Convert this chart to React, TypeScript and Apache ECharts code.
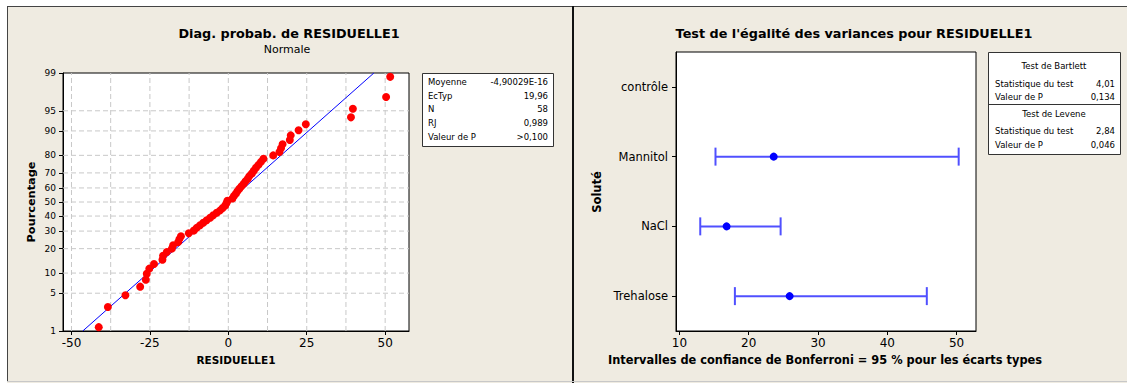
import React, { useEffect, useRef } from "react";
import * as echarts from "echarts";

// ---------- data ----------
const residuals = [
  -41.3, -38.4, -32.8, -28.1, -26.3, -26.0, -25.2, -23.7, -21.0, -20.8,
  -19.6, -18.0, -17.6, -16.0, -15.6, -15.1, -12.6, -11.0, -10.1, -9.0,
  -8.0, -6.9, -5.8, -4.8, -3.7, -2.6, -1.8, -1.0, -0.6, -0.3,
  1.3, 1.8, 2.4, 2.9, 3.5, 4.2, 4.9, 5.5, 6.2, 6.7,
  7.5, 8.1, 8.8, 9.6, 10.4, 11.2, 14.3, 16.3, 16.8, 17.3,
  19.6, 19.9, 22.4, 24.7, 39.1, 39.7, 50.3, 51.6,
];
const percents = [
  1.2, 2.91, 4.62, 6.34, 8.05, 9.76, 11.47, 13.18, 14.9, 16.61,
  18.32, 20.03, 21.75, 23.46, 25.17, 26.88, 28.6, 30.31, 32.02, 33.73,
  35.45, 37.16, 38.87, 40.58, 42.29, 44.01, 45.72, 47.43, 49.14, 50.86,
  52.57, 54.28, 55.99, 57.71, 59.42, 61.13, 62.84, 64.55, 66.27, 67.98,
  69.69, 71.4, 73.12, 74.83, 76.54, 78.25, 79.97, 81.68, 83.39, 85.1,
  86.82, 88.53, 90.24, 91.95, 93.66, 95.38, 97.09, 98.8,
];
const fitLineX = [-46.4, 46.4];
const fitLineP = [1, 99];
const yTickPercents = [1, 5, 10, 20, 30, 40, 50, 60, 70, 80, 90, 95, 99];
const xTicksLeft = [-50, -25, 0, 25, 50];
const xGridLeft = [-50, -37.5, -25, -12.5, 0, 12.5, 25, 37.5, 50];
const xMinLeft = -52.7;
const xMaxLeft = 57.6;

const statLabels = ["Moyenne", "EcTyp", "N", "RJ", "Valeur de P"];
const statValues = ["-4,90029E-16", "19,96", "58", "0,989", ">0,100"];

const solutes = ["contrôle", "Mannitol", "NaCl", "Trehalose"];
const sigmaLow = [null, 15.2, 13.0, 18.0];
const sigmaEst = [null, 23.6, 16.8, 25.9];
const sigmaHigh = [null, 50.3, 24.6, 45.7];
const xTicksRight = [10, 20, 30, 40, 50];

const bartlett = { stat: "4,01", p: "0,134" };
const levene = { stat: "2,84", p: "0,046" };

// ---------- helpers ----------
function probit(p: number): number {
  const a = [-3.969683028665376e1, 2.209460984245205e2, -2.759285104469687e2, 1.38357751867269e2, -3.066479806614716e1, 2.506628277459239];
  const b = [-5.447609879822406e1, 1.615858368580409e2, -1.556989798598866e2, 6.680131188771972e1, -1.328068155288572e1];
  const c = [-7.784894002430293e-3, -3.223964580411365e-1, -2.400758277161838, -2.549732539343734, 4.374664141464968, 2.938163982698783];
  const d = [7.784695709041462e-3, 3.224671290700398e-1, 2.445134137142996, 3.754408661907416];
  const pl = 0.02425;
  if (p < pl) {
    const q = Math.sqrt(-2 * Math.log(p));
    return (((((c[0] * q + c[1]) * q + c[2]) * q + c[3]) * q + c[4]) * q + c[5]) / ((((d[0] * q + d[1]) * q + d[2]) * q + d[3]) * q + 1);
  }
  if (p <= 1 - pl) {
    const q = p - 0.5;
    const r = q * q;
    return ((((((a[0] * r + a[1]) * r + a[2]) * r + a[3]) * r + a[4]) * r + a[5]) * q) / (((((b[0] * r + b[1]) * r + b[2]) * r + b[3]) * r + b[4]) * r + 1);
  }
  const q = Math.sqrt(-2 * Math.log(1 - p));
  return -(((((c[0] * q + c[1]) * q + c[2]) * q + c[3]) * q + c[4]) * q + c[5]) / ((((d[0] * q + d[1]) * q + d[2]) * q + d[3]) * q + 1);
}

const FONT = "DejaVu Sans";
const BEIGE = "#efebe1";
const zTicks = yTickPercents.map((p) => probit(p / 100));

export default function App() {
  const ref = useRef<HTMLDivElement>(null);
  useEffect(() => {
    document.body.style.margin = "0";
    const chart = echarts.init(ref.current!, null, { renderer: "svg" });

    const txt = (x: number, y: number, text: string, size: number, opts: any = {}) => ({
      type: "text",
      x,
      y,
      rotation: opts.rotation || 0,
      z: 100,
      style: {
        text,
        fontFamily: FONT,
        fontSize: size,
        fontWeight: opts.bold ? "bold" : "normal",
        fill: "#000",
        align: opts.align || "center",
        verticalAlign: "middle",
      },
    });

    const graphics: any[] = [
      { type: "rect", shape: { x: 0, y: 0, width: 1127, height: 6 }, style: { fill: "#fff" }, z: 50 },
      { type: "rect", shape: { x: 0, y: 0, width: 7, height: 383 }, style: { fill: "#fff" }, z: 50 },
      { type: "line", shape: { x1: 7, y1: 6.5, x2: 1127, y2: 6.5 }, style: { stroke: "#444", lineWidth: 1 }, z: 51 },
      { type: "line", shape: { x1: 7.5, y1: 6, x2: 7.5, y2: 381 }, style: { stroke: "#444", lineWidth: 1 }, z: 51 },
      { type: "line", shape: { x1: 573, y1: 6, x2: 573, y2: 383 }, style: { stroke: "#111", lineWidth: 2 }, z: 51 },
      { type: "line", shape: { x1: 7, y1: 381.5, x2: 1127, y2: 381.5 }, style: { stroke: "#c8c8c8", lineWidth: 1 }, z: 51 },
      // titles
      txt(289, 33, "Diag. probab. de RESIDUELLE1", 12.8, { bold: true }),
      txt(287, 49.5, "Normale", 11),
      txt(854, 33, "Test de l'égalité des variances pour RESIDUELLE1", 12.8, { bold: true }),
      // axis names
      txt(236, 360, "RESIDUELLE1", 10.5, { bold: true }),
      txt(31, 202, "Pourcentage", 11.3, { bold: true, rotation: Math.PI / 2 }),
      txt(597, 192, "Soluté", 11.5, { bold: true, rotation: Math.PI / 2 }),
      txt(825, 360, "Intervalles de confiance de Bonferroni = 95 % pour les écarts types", 11.4, { bold: true }),
      // left stats box
      { type: "rect", shape: { x: 422.5, y: 73.5, width: 131, height: 73 }, style: { fill: "#fff", stroke: "#333", lineWidth: 1 }, z: 60 },
      // right stats box
      { type: "rect", shape: { x: 988.5, y: 52.5, width: 132, height: 102 }, style: { fill: "#fff", stroke: "#333", lineWidth: 1 }, z: 60 },
      { type: "line", shape: { x1: 988.5, y1: 104.5, x2: 1120.5, y2: 104.5 }, style: { stroke: "#333", lineWidth: 1 }, z: 61 },
    ];
    const BOX = 8.5;
    const rowsY = [82, 95.7, 109.3, 123, 137];
    statLabels.forEach((l, i) => {
      graphics.push(txt(428, rowsY[i], l, BOX, { align: "left" }));
      graphics.push(txt(548, rowsY[i], statValues[i], BOX, { align: "right" }));
    });
    graphics.push(txt(1054, 66, "Test de Bartlett", BOX));
    graphics.push(txt(995, 83.5, "Statistique du test", BOX, { align: "left" }));
    graphics.push(txt(1115, 83.5, bartlett.stat, BOX, { align: "right" }));
    graphics.push(txt(995, 97, "Valeur de P", BOX, { align: "left" }));
    graphics.push(txt(1115, 97, bartlett.p, BOX, { align: "right" }));
    graphics.push(txt(1054, 113.5, "Test de Levene", BOX));
    graphics.push(txt(995, 131, "Statistique du test", BOX, { align: "left" }));
    graphics.push(txt(1115, 131, levene.stat, BOX, { align: "right" }));
    graphics.push(txt(995, 145, "Valeur de P", BOX, { align: "left" }));
    graphics.push(txt(1115, 145, levene.p, BOX, { align: "right" }));

    const intervalData: any[] = [];
    const estData: any[] = [];
    solutes.forEach((_, i) => {
      if (sigmaLow[i] != null) {
        intervalData.push([i, sigmaLow[i], sigmaHigh[i]]);
        estData.push([sigmaEst[i], i]);
      }
    });

    const zMin = zTicks[0];
    const zMax = zTicks[zTicks.length - 1];
    const gridStyle = { color: "#c8c8c8", type: [5, 3], width: 1 };
    const gridSeries: any[] = [
      ...xGridLeft.map((v) => ({
        type: "line",
        xAxisIndex: 0,
        yAxisIndex: 0,
        data: [[v, zMin], [v, zMax]],
        symbol: "none",
        silent: true,
        z: 1,
        lineStyle: gridStyle,
      })),
      ...zTicks.slice(1, zTicks.length - 1).map((z) => ({
        type: "line",
        xAxisIndex: 0,
        yAxisIndex: 0,
        data: [[xMinLeft, z], [xMaxLeft, z]],
        symbol: "none",
        silent: true,
        z: 1,
        lineStyle: gridStyle,
      })),
    ];

    const axisLabelBase = { fontFamily: FONT, color: "#000" };

    chart.setOption({
      animation: false,
      backgroundColor: BEIGE,
      grid: [
        { left: 63, top: 73, width: 346, height: 258, show: true, backgroundColor: "#fff", borderColor: "#000", borderWidth: 1 },
        { left: 676, top: 52, width: 300, height: 279, show: true, backgroundColor: "#fff", borderColor: "#000", borderWidth: 1 },
      ],
      xAxis: [
        {
          type: "value",
          gridIndex: 0,
          min: xMinLeft,
          max: xMaxLeft,
          axisLine: { show: true, onZero: false, lineStyle: { color: "#000" } },
          axisTick: { show: true, customValues: xTicksLeft, length: 4, lineStyle: { color: "#000" } },
          axisLabel: { ...axisLabelBase, customValues: xTicksLeft, fontSize: 12, margin: 6 },
          splitLine: { show: false },
        },
        {
          type: "value",
          gridIndex: 1,
          min: 9.5,
          max: 52.8,
          axisLine: { show: true, onZero: false, lineStyle: { color: "#000" } },
          axisTick: { show: true, customValues: xTicksRight, length: 4, lineStyle: { color: "#000" } },
          axisLabel: { ...axisLabelBase, customValues: xTicksRight, fontSize: 12, margin: 6 },
          splitLine: { show: false },
        },
      ],
      yAxis: [
        {
          type: "value",
          gridIndex: 0,
          min: zMin,
          max: zMax,
          axisLine: { show: true, onZero: false, lineStyle: { color: "#000" } },
          axisTick: { show: true, customValues: zTicks, length: 4, lineStyle: { color: "#000" } },
          axisLabel: {
            ...axisLabelBase,
            customValues: zTicks,
            fontSize: 9,
            margin: 7,
            formatter: (v: number) => {
              const i = zTicks.findIndex((z) => Math.abs(z - v) < 1e-6);
              return i >= 0 ? String(yTickPercents[i]) : "";
            },
          },
          splitLine: { show: false },
        },
        {
          type: "category",
          gridIndex: 1,
          data: solutes,
          inverse: true,
          axisLine: { show: true, onZero: false, lineStyle: { color: "#000" } },
          axisTick: { show: true, alignWithLabel: true, length: 4, lineStyle: { color: "#000" } },
          axisLabel: { ...axisLabelBase, fontSize: 11.5, margin: 8 },
          splitLine: { show: false },
        },
      ],
      series: [
        ...gridSeries,
        {
          type: "line",
          xAxisIndex: 0,
          yAxisIndex: 0,
          data: fitLineX.map((x, i) => [x, probit(fitLineP[i] / 100)]),
          symbol: "none",
          lineStyle: { color: "#0000ff", width: 1 },
          z: 3,
          silent: true,
        },
        {
          type: "scatter",
          xAxisIndex: 0,
          yAxisIndex: 0,
          data: residuals.map((x, i) => [x, probit(percents[i] / 100)]),
          symbolSize: 8,
          itemStyle: { color: "#ff0000", opacity: 1, borderWidth: 0 },
          z: 4,
        },
        {
          type: "custom",
          xAxisIndex: 1,
          yAxisIndex: 1,
          data: intervalData,
          encode: { x: [1, 2], y: 0 },
          z: 3,
          renderItem: (params: any, api: any) => {
            const cat = api.value(0);
            const p1 = api.coord([api.value(1), cat]);
            const p2 = api.coord([api.value(2), cat]);
            const h = 9;
            const st = { stroke: "#5050ff", lineWidth: 2 };
            return {
              type: "group",
              children: [
                { type: "line", shape: { x1: p1[0], y1: p1[1], x2: p2[0], y2: p2[1] }, style: st },
                { type: "line", shape: { x1: p1[0], y1: p1[1] - h, x2: p1[0], y2: p1[1] + h }, style: st },
                { type: "line", shape: { x1: p2[0], y1: p2[1] - h, x2: p2[0], y2: p2[1] + h }, style: st },
              ],
            };
          },
        },
        {
          type: "scatter",
          xAxisIndex: 1,
          yAxisIndex: 1,
          data: estData,
          symbolSize: 8,
          itemStyle: { color: "#0000ff", opacity: 1, borderWidth: 0 },
          z: 4,
        },
      ],
      graphic: graphics,
    });
    return () => chart.dispose();
  }, []);
  return <div ref={ref} style={{ width: 1127, height: 383 }} />;
}
